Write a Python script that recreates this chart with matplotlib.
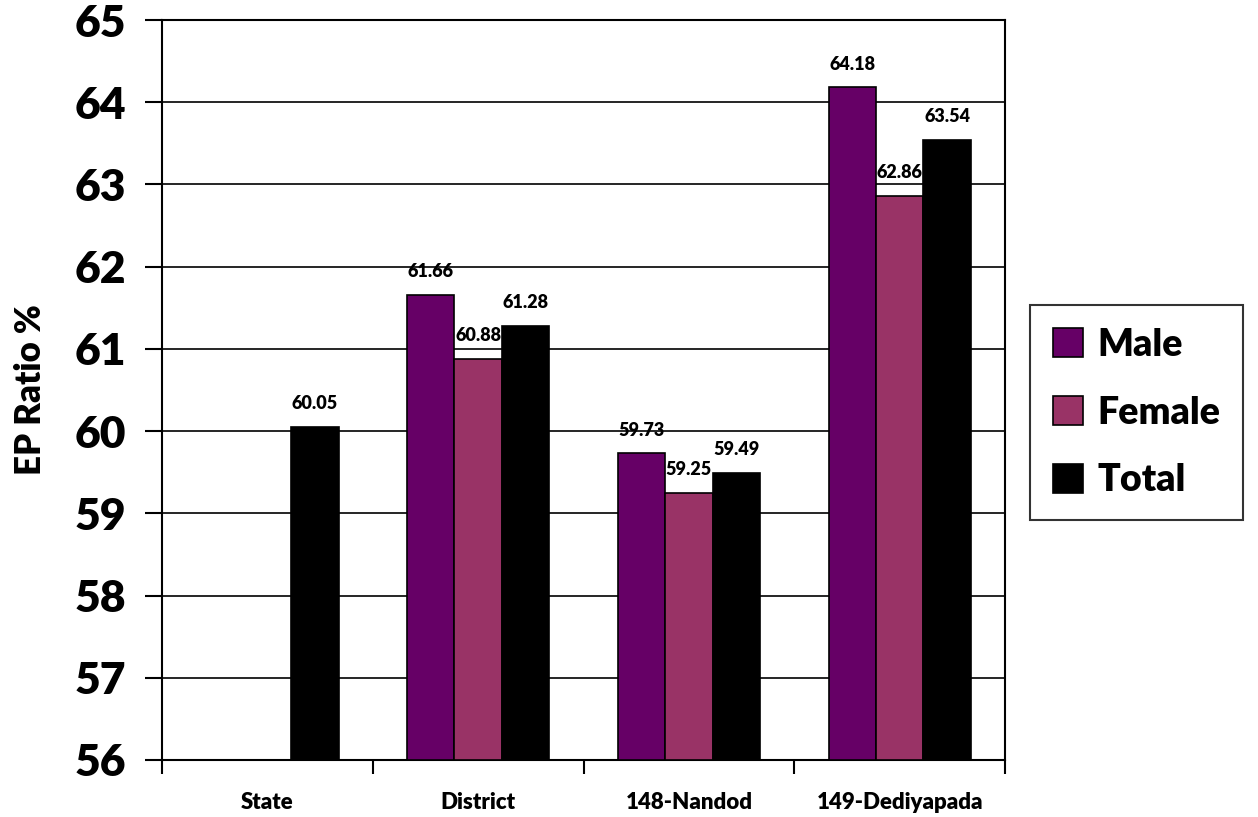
import matplotlib
matplotlib.use("Agg")
import matplotlib.pyplot as plt
import numpy as np

categories = ["State", "District", "148-Nandod", "149-Dediyapada"]
male = [np.nan, 61.66, 59.73, 64.18]
female = [np.nan, 60.88, 59.25, 62.86]
total = [60.05, 61.28, 59.49, 63.54]
series_names = ["Male", "Female", "Total"]
colors = ["#660066", "#993366", "#000000"]
yticks = list(range(56, 66))

plt.rcParams['font.family'] = ['Lato', 'DejaVu Sans']
W = 'heavy'

fig = plt.figure(figsize=(12.58, 8.17), dpi=100)
ax = fig.add_axes([0.1288, 0.0698, 0.6702, 0.9057])

x = np.arange(len(categories))
width = 0.225
offsets = [-width, 0, width]
for vals, name, col, off in zip([male, female, total], series_names, colors, offsets):
    ax.bar(x + off, np.array(vals, dtype=float) - 56, width, bottom=56,
           color=col, edgecolor='black', linewidth=1.2, label=name, zorder=3)
    for xi, v in zip(x + off, vals):
        if not np.isnan(v):
            ax.text(xi, v + 0.18, f"{v:.2f}", ha='center', va='bottom',
                    fontsize=13, fontweight=W, zorder=4)

ax.set_ylim(56, 65)
ax.set_xlim(-0.5, len(categories) - 0.5)
ax.set_yticks(yticks)
ax.set_yticklabels([str(t) for t in yticks], fontsize=32, fontweight=W)
ax.yaxis.grid(True, color='black', linewidth=1.2, zorder=0)

ax.set_xticks(np.arange(-0.5, len(categories)))
ax.set_xticklabels([])
ax.set_xticks(x, minor=True)
ax.set_xticklabels(categories, minor=True, fontsize=16, fontweight=W)
ax.tick_params(axis='x', which='major', length=10, width=1.5, direction='out')
ax.tick_params(axis='x', which='minor', length=0, pad=23)
ax.tick_params(axis='y', length=12, width=1.5, direction='out', pad=14)

for side in ax.spines.values():
    side.set_linewidth(1.5)

ax.set_ylabel("EP Ratio %", fontsize=25, fontweight=W, labelpad=20)

leg = fig.legend(loc='center left', bbox_to_anchor=(0.8188, 0.495),
                 frameon=True, fancybox=False, edgecolor='black', borderaxespad=0,
                 handlelength=0.8, handleheight=0.8, handletextpad=0.4,
                 borderpad=0.6, labelspacing=0.9, prop={'weight': W, 'size': 27})
leg.get_frame().set_linewidth(1.5)

fig.savefig("out.png", dpi=100)
